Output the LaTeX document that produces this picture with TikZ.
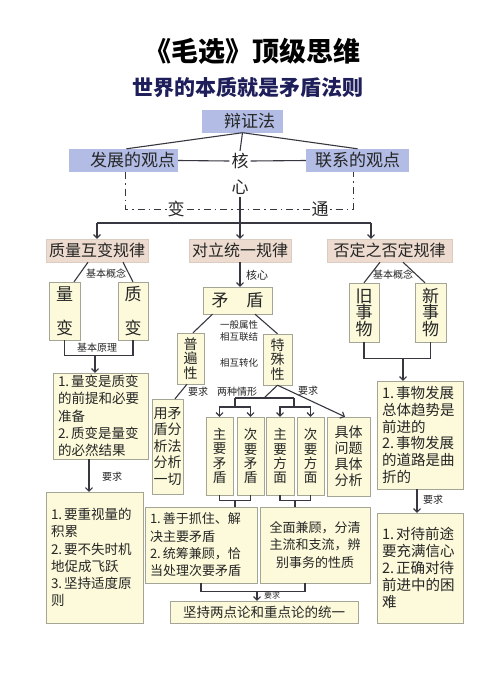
\documentclass[tikz,border=0pt]{standalone}
\usepackage{fontspec}
\setmainfont{Noto Sans CJK SC}
\usetikzlibrary{arrows.meta,positioning}

\definecolor{bluefill}{RGB}{178,188,228}
\definecolor{lawfill}{RGB}{236,219,206}
\definecolor{notefill}{RGB}{252,250,218}
\definecolor{noteline}{RGB}{165,165,150}
\definecolor{linkc}{RGB}{55,55,65}
\definecolor{navy}{RGB}{30,30,90}

\begin{document}
\begin{tikzpicture}[x=1pt, y=-1pt,
  bluebox/.style={fill=bluefill, minimum height=23pt, inner ysep=0pt, text=black!85, font=\fontsize{17}{18}\selectfont},
  law/.style={fill=lawfill, draw=lawfill!85!gray, minimum height=23pt, inner sep=0pt, text=black!85, font=\fontsize{16}{17}\selectfont},
  vbox/.style={draw=noteline, fill=notefill, inner sep=0pt, align=center, text=black!85},
  note/.style={draw=noteline, fill=notefill, inner xsep=5pt, inner ysep=0pt, align=left, text=black!85, font=\fontsize{13.5}{17.3}\selectfont},
  big/.style={font=\fontsize{17}{18}\selectfont, inner sep=2pt, text=black!85},
  arr/.style={-{Straight Barb[length=3.5pt,width=7pt]}, line width=1.1pt, draw=linkc},
  ln/.style={line width=1.1pt, draw=linkc},
  lbl/.style={font=\fontsize{10}{11}\selectfont, inner sep=1pt, text=black!85}
]
  \useasboundingbox[fill=white] (0,0) rectangle (500,675);

  % titles
  \node[font=\fontsize{27}{28}\selectfont\bfseries] (title) at (252,51) {《毛选》顶级思维};
  \node[font=\fontsize{21}{22}\selectfont\bfseries, text=navy] (sub) at (248,87) {世界的本质就是矛盾法则};

  % dialectics and its two views
  \node[bluebox, inner xsep=8pt, text width=65pt, align=right] (bzf) at (242.5,121) {辩证法};
  \node[bluebox, inner xsep=3pt, text width=103pt, align=right] (fz) at (123.5,160.5) {发展的观点};
  \node[bluebox, minimum width=103pt] (lx) at (357.5,160.5) {联系的观点};
  \node[big] (he) at (240,161) {核};
  \node[big] (xin) at (240,187) {心};

  \draw[ln] (bzf.south) -- ([xshift=3pt]fz.north);
  \draw[ln] (bzf.south) -- (lx.north);
  \draw[ln] (bzf.south) -- (he.north);
  \draw[ln] (fz.east) -- (he.west);
  \draw[ln] (he.east) -- (lx.west);

  \draw[ln, line width=1pt, dash pattern=on 7pt off 4pt on 1.5pt off 4pt]
    ([xshift=1.5pt]fz.south) -- ++(0,37) -| ([xshift=-4.5pt]lx.south);
  \node[big, fill=white, inner sep=1pt] (bian) at (176,209) {变};
  \node[big, fill=white, inner sep=1pt] (tong) at (320,209) {通};

  % three laws
  \node[law, minimum width=102pt] (zl) at (97,250.5) {质量互变规律};
  \node[law, minimum width=102pt] (dl) at (240,250.5) {对立统一规律};
  \node[law, minimum width=125pt] (fd) at (389.5,250.5) {否定之否定规律};

  \coordinate (hl) at (97,223);
  \coordinate (hr) at (371,223);
  \draw[ln] (hl) -- (hr);
  \draw[arr] (xin.south) -- (dl.north);
  \draw[arr] (hl) -- (zl.north);
  \draw[arr] (hr) -- (hr |- fd.north);

  % left column: quantity and quality
  \node[vbox, font=\fontsize{17}{34}\selectfont, minimum width=31pt, minimum height=58pt] (lb) at (64.5,311) {量\\变};
  \node[vbox, font=\fontsize{17}{34}\selectfont, minimum width=30pt, minimum height=58pt] (zb) at (133,311) {质\\变};
  \draw[ln] ([xshift=-9pt]zl.south) -- ([xshift=9.5pt]lb.north);
  \draw[ln] ([xshift=26pt]zl.south) -- (zb.north);
  \node[lbl] (gn1) at (106,274) {基本概念};
  \draw[ln] (lb.south) -- ++(0,15) -| (zb.south);
  \node[lbl] (yl) at (97,348) {基本原理};

  \node[note, text width=85pt, minimum height=86pt] (a1) at (100.5,416)
    {1.\kern2pt 量变是质变\\的前提和必要\\准备\\2.\kern2pt 质变是量变\\的必然结果};
  \coordinate (ja) at (95,355);
  \draw[arr] (ja) -- (ja |- a1.north);

  \node[note, text width=87pt, minimum height=131pt] (a2) at (94.5,557.5)
    {1.\kern2pt 要重视量的\\积累\\2.\kern2pt 要不失时机\\地促成飞跃\\3.\kern2pt 坚持适度原\\则};
  \draw[arr] ([xshift=-11.5pt]a1.south) -- ([xshift=-5.5pt]a2.north);
  \node[lbl] (yq1) at (112,477) {要求};

  % middle column: contradiction
  \node[vbox, font=\fontsize{17}{18}\selectfont, minimum width=69pt, minimum height=27pt] (md) at (237.5,300.5) {矛\hspace{18pt}盾};
  \draw[arr] (dl.south) -- (dl.south |- md.north);
  \node[lbl, font=\fontsize{11}{12}\selectfont] (hx) at (257,275) {核心};

  \node[vbox, font=\fontsize{14}{14.5}\selectfont, minimum width=27pt, minimum height=51pt] (pbx) at (190.5,358.5) {普\\遍\\性};
  \node[vbox, font=\fontsize{14}{14.5}\selectfont, minimum width=29pt, minimum height=51pt] (tsx) at (277.5,359.5) {特\\殊\\性};
  \draw[ln] ([xshift=-25pt]md.south) -- ([xshift=2.5pt]pbx.north);
  \draw[ln] ([xshift=17.5pt]md.south) -- (tsx.north);
  \node[lbl, font=\fontsize{9.5}{10}\selectfont] (sx1) at (239,325) {一般属性};
  \node[lbl, font=\fontsize{9.5}{10}\selectfont] (sx2) at (239,337) {相互联结};
  \node[lbl, font=\fontsize{9.5}{10}\selectfont] (sx3) at (239,363) {相互转化};

  \node[vbox, font=\fontsize{14}{16.5}\selectfont, minimum width=31pt, minimum height=95pt] (yong) at (167.5,446.5) {用矛\\盾分\\析法\\分析\\一切};
  \draw[ln] ([xshift=-3.5pt]pbx.south) -- ([xshift=7.5pt]yong.north);
  \node[lbl] (yq2) at (198,392) {要求};

  \node[vbox, font=\fontsize{13.5}{14.2}\selectfont, minimum width=27pt, minimum height=78pt] (zymd) at (219.5,456) {主\\要\\矛\\盾};
  \node[vbox, font=\fontsize{13.5}{14.2}\selectfont, minimum width=27pt, minimum height=78pt] (cymd) at (250.5,456) {次\\要\\矛\\盾};
  \node[vbox, font=\fontsize{13.5}{14.2}\selectfont, minimum width=28pt, minimum height=78pt] (zyfm) at (280,456) {主\\要\\方\\面};
  \node[vbox, font=\fontsize{13.5}{14.2}\selectfont, minimum width=27pt, minimum height=78pt] (cyfm) at (310.5,456) {次\\要\\方\\面};
  \node[vbox, font=\fontsize{14}{16}\selectfont, minimum width=43pt, minimum height=79pt] (jtfx) at (348.5,456.5) {具体\\问题\\具体\\分析};

  \coordinate (two) at (264,398);
  \coordinate (jl) at (235,398);
  \coordinate (jr) at (294,398);
  \draw[ln] (tsx.south) -- (two);
  \draw[ln] (jl) -- (jr);
  \draw[arr] (jl) -- ++(0,9) -| (zymd.north);
  \draw[arr] (jl) -- ++(0,9) -| (cymd.north);
  \draw[arr] (jr) -- ++(0,9) -| (zyfm.north);
  \draw[arr] (jr) -- ++(0,9) -| (cyfm.north);
  \node[lbl] (lz) at (237,391.5) {两种情形};
  \draw[arr] (tsx.south) -- ([xshift=-3.5pt]jtfx.north);
  \node[lbl] (yq3) at (308,391) {要求};

  \node[note, font=\fontsize{13}{17.3}\selectfont, text width=102pt, minimum height=76pt] (b1) at (201,545)
    {1.\kern2pt 善于抓住、解\\决主要矛盾\\2.\kern2pt 统筹兼顾，恰\\当处理次要矛盾};
  \node[note, align=center, font=\fontsize{13}{17.5}\selectfont, text width=100pt, minimum height=76pt] (b2) at (315,545)
    {全面兼顾，分清\\主流和支流，辨\\别事务的性质};

  \draw[ln] (zymd.south) -- ++(0,5) -| (cymd.south);
  \draw[ln] (zyfm.south) -- ++(0,5) -| (cyfm.south);
  \coordinate (jm1) at (235,500);
  \coordinate (jm2) at (295,500);
  \draw[ln] (jm1) -- (jm1 |- b1.north);
  \draw[ln] (jm2) -- (jm2 |- b2.north);

  \node[note, align=center, font=\fontsize{13.5}{15}\selectfont, text width=178pt, minimum height=22pt] (c1) at (264,612)
    {坚持两点论和重点论的统一};
  \draw[ln] (b1.south) -- ++(0,8) -| ([xshift=-10pt]b2.south);
  \coordinate (jc) at (257,591);
  \draw[arr] (jc) -- (jc |- c1.north);
  \node[lbl, font=\fontsize{8}{9}\selectfont] (yq4) at (272,595.5) {要求};

  % right column: negation of negation
  \node[vbox, font=\fontsize{17}{16.5}\selectfont, minimum width=30pt, minimum height=59pt] (jsw) at (364,312.5) {旧\\事\\物};
  \node[vbox, font=\fontsize{17}{16.5}\selectfont, minimum width=31pt, minimum height=59pt] (xsw) at (430.5,312.5) {新\\事\\物};
  \draw[ln] ([xshift=-9.5pt]fd.south) -- (jsw.north);
  \draw[ln] ([xshift=13.5pt]fd.south) -- ([xshift=-5.5pt]xsw.north);
  \node[lbl] (gn2) at (393,275) {基本概念};
  \draw[ln] (jsw.south) -- ++(0,16) -| (xsw.south);

  \node[note, font=\fontsize{14.5}{16.8}\selectfont, text width=76pt, minimum height=108pt] (d1) at (420,435)
    {1.\kern2pt 事物发展\\总体趋势是\\前进的\\2.\kern2pt 事物发展\\的道路是曲\\折的};
  \coordinate (jd) at (403,358);
  \draw[arr] (jd) -- (jd |- d1.north);

  \node[note, font=\fontsize{14.5}{16.8}\selectfont, text width=76pt, minimum height=110pt] (d2) at (420,568)
    {1.\kern2pt 对待前途\\要充满信心\\2.\kern2pt 正确对待\\前进中的困\\难};
  \draw[arr] ([xshift=-3pt]d1.south) -- ([xshift=-3pt]d2.north);
  \node[lbl] (yq5) at (433,500) {要求};

\end{tikzpicture}
\end{document}
